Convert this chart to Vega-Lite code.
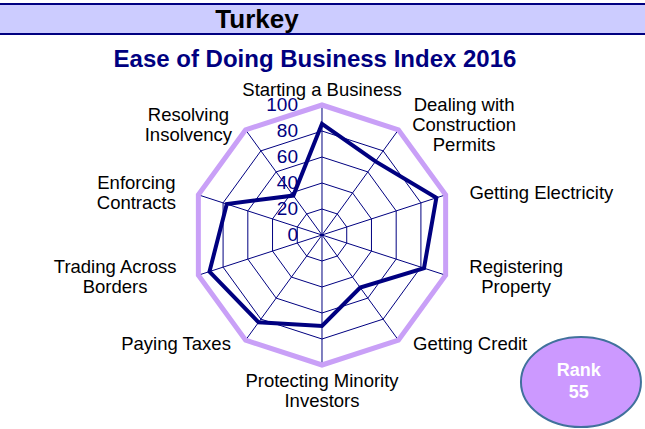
{
  "$schema": "https://vega.github.io/schema/vega-lite/v6.json",
  "width": 645,
  "height": 429,
  "autosize": "none",
  "padding": 0,
  "background": "white",
  "config": {"view": {"stroke": null}, "text": {"font": "Liberation Sans"}},
  "datasets": {
    "scores": [
      {"indicator": "Starting a Business", "label": "Starting a Business", "score": 85.5},
      {"indicator": "Dealing with Construction Permits", "label": "Dealing with\nConstruction\nPermits", "score": 70},
      {"indicator": "Getting Electricity", "label": "Getting Electricity", "score": 92.5},
      {"indicator": "Registering Property", "label": "Registering\nProperty", "score": 82.5},
      {"indicator": "Getting Credit", "label": "Getting Credit", "score": 50},
      {"indicator": "Protecting Minority Investors", "label": "Protecting Minority\nInvestors", "score": 70},
      {"indicator": "Paying Taxes", "label": "Paying Taxes", "score": 83},
      {"indicator": "Trading Across Borders", "label": "Trading Across\nBorders", "score": 91},
      {"indicator": "Enforcing Contracts", "label": "Enforcing\nContracts", "score": 77},
      {"indicator": "Resolving Insolvency", "label": "Resolving\nInsolvency", "score": 37.5}
    ],
    "ticks": [{"v": 0}, {"v": 20}, {"v": 40}, {"v": 60}, {"v": 80}, {"v": 100}],
    "header": [{"country": "Turkey", "title": "Ease of Doing Business Index 2016", "rank": 55}]
  },
  "layer": [
    {
      "data": {"name": "header"},
      "mark": {"type": "rect", "fill": "#ccccff", "stroke": "#000080", "strokeWidth": 2, "clip": true},
      "encoding": {
        "x": {"datum": -300, "type": "quantitative", "scale": {"domain": [-247.69, 248.46], "nice": false, "zero": false}, "axis": null},
        "x2": {"datum": 300},
        "y": {"datum": 177.7, "type": "quantitative", "scale": {"domain": [-149.23, 180.77], "nice": false, "zero": false}, "axis": null},
        "y2": {"datum": 154.6}
      }
    },
    {
      "data": {"name": "header"},
      "mark": {"type": "text", "fontSize": 26, "fontWeight": "bold", "fill": "black", "align": "center", "baseline": "alphabetic", "font": "Liberation Sans"},
      "encoding": {
        "x": {"datum": -50, "type": "quantitative", "scale": {"domain": [-247.69, 248.46], "nice": false, "zero": false}, "axis": null},
        "y": {"datum": 159.5, "type": "quantitative", "scale": {"domain": [-149.23, 180.77], "nice": false, "zero": false}, "axis": null},
        "text": {"field": "country"}
      }
    },
    {
      "data": {"name": "header"},
      "mark": {"type": "text", "fontSize": 24, "fontWeight": "bold", "fill": "#000080", "align": "center", "baseline": "alphabetic", "font": "Liberation Sans"},
      "encoding": {
        "x": {"datum": -5.4, "type": "quantitative", "scale": {"domain": [-247.69, 248.46], "nice": false, "zero": false}, "axis": null},
        "y": {"datum": 129, "type": "quantitative", "scale": {"domain": [-149.23, 180.77], "nice": false, "zero": false}, "axis": null},
        "text": {"field": "title"}
      }
    },
    {
      "data": {"name": "scores"},
      "transform": [
        {"window": [{"op": "row_number", "as": "i"}]},
        {"calculate": "(datum.i - 1) * 2 * PI / 10", "as": "a"},
        {"calculate": "[20, 40, 60, 80]", "as": "lv"},
        {"flatten": ["lv"]},
        {"calculate": "datum.lv * sin(datum.a)", "as": "gx"},
        {"calculate": "datum.lv * cos(datum.a)", "as": "gy"}
      ],
      "mark": {"type": "line", "interpolate": "linear-closed", "stroke": "#000080", "strokeWidth": 1},
      "encoding": {
        "x": {"field": "gx", "type": "quantitative", "scale": {"domain": [-247.69, 248.46], "nice": false, "zero": false}, "axis": null},
        "y": {"field": "gy", "type": "quantitative", "scale": {"domain": [-149.23, 180.77], "nice": false, "zero": false}, "axis": null},
        "detail": {"field": "lv", "type": "nominal"},
        "order": {"field": "i", "type": "quantitative"}
      }
    },
    {
      "data": {"name": "scores"},
      "transform": [
        {"window": [{"op": "row_number", "as": "i"}]},
        {"calculate": "(datum.i - 1) * 2 * PI / 10", "as": "a"},
        {"calculate": "100 * sin(datum.a)", "as": "ox"},
        {"calculate": "100 * cos(datum.a)", "as": "oy"}
      ],
      "mark": {"type": "rule", "stroke": "#000080", "strokeWidth": 1},
      "encoding": {
        "x": {"field": "ox", "type": "quantitative", "scale": {"domain": [-247.69, 248.46], "nice": false, "zero": false}, "axis": null},
        "y": {"field": "oy", "type": "quantitative", "scale": {"domain": [-149.23, 180.77], "nice": false, "zero": false}, "axis": null},
        "x2": {"datum": 0},
        "y2": {"datum": 0}
      }
    },
    {
      "data": {"name": "scores"},
      "transform": [
        {"window": [{"op": "row_number", "as": "i"}]},
        {"calculate": "(datum.i - 1) * 2 * PI / 10", "as": "a"},
        {"calculate": "100 * sin(datum.a)", "as": "ox"},
        {"calculate": "100 * cos(datum.a)", "as": "oy"}
      ],
      "mark": {"type": "line", "interpolate": "linear-closed", "stroke": "#c9a0f7", "strokeWidth": 5},
      "encoding": {
        "x": {"field": "ox", "type": "quantitative", "scale": {"domain": [-247.69, 248.46], "nice": false, "zero": false}, "axis": null},
        "y": {"field": "oy", "type": "quantitative", "scale": {"domain": [-149.23, 180.77], "nice": false, "zero": false}, "axis": null},
        "order": {"field": "i", "type": "quantitative"}
      }
    },
    {
      "data": {"name": "scores"},
      "transform": [
        {"window": [{"op": "row_number", "as": "i"}]},
        {"calculate": "(datum.i - 1) * 2 * PI / 10", "as": "a"},
        {"calculate": "datum.score * sin(datum.a)", "as": "px"},
        {"calculate": "datum.score * cos(datum.a)", "as": "py"}
      ],
      "mark": {"type": "line", "interpolate": "linear-closed", "stroke": "#000080", "strokeWidth": 4},
      "encoding": {
        "x": {"field": "px", "type": "quantitative", "scale": {"domain": [-247.69, 248.46], "nice": false, "zero": false}, "axis": null},
        "y": {"field": "py", "type": "quantitative", "scale": {"domain": [-149.23, 180.77], "nice": false, "zero": false}, "axis": null},
        "order": {"field": "i", "type": "quantitative"}
      }
    },
    {
      "data": {"name": "ticks"},
      "mark": {"type": "text", "fontSize": 19, "fill": "#000080", "align": "right", "baseline": "middle", "dx": -24, "font": "Liberation Sans"},
      "encoding": {
        "x": {"datum": 0, "type": "quantitative", "scale": {"domain": [-247.69, 248.46], "nice": false, "zero": false}, "axis": null},
        "y": {"field": "v", "type": "quantitative", "scale": {"domain": [-149.23, 180.77], "nice": false, "zero": false}, "axis": null},
        "text": {"field": "v", "type": "quantitative"}
      }
    },
    {
      "data": {"name": "scores"},
      "transform": [
        {"window": [{"op": "row_number", "as": "i"}]},
        {"calculate": "(datum.i - 1) * 2 * PI / 10", "as": "a"},
        {"filter": "indexof(datum.label, '\\n') >= 0 && abs(sin(datum.a)) > 0.01"},
        {"calculate": "split(datum.label, '\\n')", "as": "lines"},
        {"calculate": "max(length(datum.lines[0]), length(datum.lines[1] || ''), length(datum.lines[2] || ''))", "as": "maxlen"},
        {"calculate": "119.2 * sin(datum.a) + (sin(datum.a) > 0 ? 1 : -1) * datum.maxlen * 3.27", "as": "lx"},
        {"calculate": "105 * cos(datum.a) + (length(datum.lines) - 1) * 7.69", "as": "ly"}
      ],
      "mark": {"type": "text", "fontSize": 18.5, "fill": "black", "align": "center", "baseline": "middle", "lineBreak": "\n", "lineHeight": 20, "font": "Liberation Sans"},
      "encoding": {
        "x": {"field": "lx", "type": "quantitative", "scale": {"domain": [-247.69, 248.46], "nice": false, "zero": false}, "axis": null},
        "y": {"field": "ly", "type": "quantitative", "scale": {"domain": [-149.23, 180.77], "nice": false, "zero": false}, "axis": null},
        "text": {"field": "label"}
      }
    },
    {
      "data": {"name": "scores"},
      "transform": [
        {"window": [{"op": "row_number", "as": "i"}]},
        {"calculate": "(datum.i - 1) * 2 * PI / 10", "as": "a"},
        {"filter": "indexof(datum.label, '\\n') < 0 && sin(datum.a) > 0.01"},
        {"calculate": "119.2 * sin(datum.a)", "as": "lx"},
        {"calculate": "103.8 * cos(datum.a)", "as": "ly"}
      ],
      "mark": {"type": "text", "fontSize": 18.5, "fill": "black", "align": "left", "baseline": "middle", "font": "Liberation Sans"},
      "encoding": {
        "x": {"field": "lx", "type": "quantitative", "scale": {"domain": [-247.69, 248.46], "nice": false, "zero": false}, "axis": null},
        "y": {"field": "ly", "type": "quantitative", "scale": {"domain": [-149.23, 180.77], "nice": false, "zero": false}, "axis": null},
        "text": {"field": "label"}
      }
    },
    {
      "data": {"name": "scores"},
      "transform": [
        {"window": [{"op": "row_number", "as": "i"}]},
        {"calculate": "(datum.i - 1) * 2 * PI / 10", "as": "a"},
        {"filter": "indexof(datum.label, '\\n') < 0 && sin(datum.a) < -0.01"},
        {"calculate": "119.2 * sin(datum.a)", "as": "lx"},
        {"calculate": "103.8 * cos(datum.a)", "as": "ly"}
      ],
      "mark": {"type": "text", "fontSize": 18.5, "fill": "black", "align": "right", "baseline": "middle", "font": "Liberation Sans"},
      "encoding": {
        "x": {"field": "lx", "type": "quantitative", "scale": {"domain": [-247.69, 248.46], "nice": false, "zero": false}, "axis": null},
        "y": {"field": "ly", "type": "quantitative", "scale": {"domain": [-149.23, 180.77], "nice": false, "zero": false}, "axis": null},
        "text": {"field": "label"}
      }
    },
    {
      "data": {"name": "scores"},
      "transform": [
        {"window": [{"op": "row_number", "as": "i"}]},
        {"calculate": "(datum.i - 1) * 2 * PI / 10", "as": "a"},
        {"filter": "cos(datum.a) > 0.99"},
        {"calculate": "103.8 * cos(datum.a)", "as": "ly"}
      ],
      "mark": {"type": "text", "fontSize": 18.5, "fill": "black", "align": "center", "baseline": "bottom", "lineBreak": "\n", "lineHeight": 20, "font": "Liberation Sans"},
      "encoding": {
        "x": {"datum": 0, "type": "quantitative", "scale": {"domain": [-247.69, 248.46], "nice": false, "zero": false}, "axis": null},
        "y": {"field": "ly", "type": "quantitative", "scale": {"domain": [-149.23, 180.77], "nice": false, "zero": false}, "axis": null},
        "text": {"field": "label"}
      }
    },
    {
      "data": {"name": "scores"},
      "transform": [
        {"window": [{"op": "row_number", "as": "i"}]},
        {"calculate": "(datum.i - 1) * 2 * PI / 10", "as": "a"},
        {"filter": "cos(datum.a) < -0.99"},
        {"calculate": "105.5 * cos(datum.a)", "as": "ly"}
      ],
      "mark": {"type": "text", "fontSize": 18.5, "fill": "black", "align": "center", "baseline": "top", "lineBreak": "\n", "lineHeight": 20, "font": "Liberation Sans"},
      "encoding": {
        "x": {"datum": 0, "type": "quantitative", "scale": {"domain": [-247.69, 248.46], "nice": false, "zero": false}, "axis": null},
        "y": {"field": "ly", "type": "quantitative", "scale": {"domain": [-149.23, 180.77], "nice": false, "zero": false}, "axis": null},
        "text": {"field": "label"}
      }
    },
    {
      "data": {"name": "header"},
      "mark": {"type": "point", "shape": "M-1,0A1,0.75,0,1,1,1,0A1,0.75,0,1,1,-1,0Z", "size": 14400, "filled": true, "fill": "#cc99ff", "stroke": "#41719c", "strokeWidth": 2, "opacity": 1, "fillOpacity": 1, "clip": false},
      "encoding": {
        "x": {"datum": 199.2, "type": "quantitative", "scale": {"domain": [-247.69, 248.46], "nice": false, "zero": false}, "axis": null},
        "y": {"datum": -113.1, "type": "quantitative", "scale": {"domain": [-149.23, 180.77], "nice": false, "zero": false}, "axis": null}
      }
    },
    {
      "data": {"name": "header"},
      "transform": [{"calculate": "['Rank', '' + datum.rank]", "as": "rt"}],
      "mark": {"type": "text", "fontSize": 18, "fontWeight": "bold", "fill": "white", "align": "center", "baseline": "middle", "lineHeight": 22, "font": "Liberation Sans"},
      "encoding": {
        "x": {"datum": 197.5, "type": "quantitative", "scale": {"domain": [-247.69, 248.46], "nice": false, "zero": false}, "axis": null},
        "y": {"datum": -104.6, "type": "quantitative", "scale": {"domain": [-149.23, 180.77], "nice": false, "zero": false}, "axis": null},
        "text": {"field": "rt"}
      }
    }
  ]
}
